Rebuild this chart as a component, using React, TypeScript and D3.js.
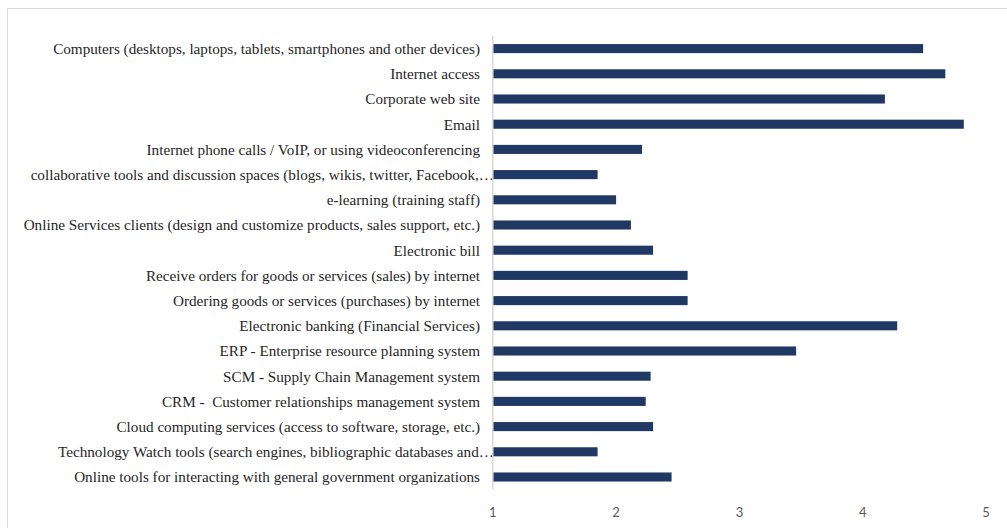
import React from "react";
import * as d3 from "d3";

const categories: string[] = [
  "Computers (desktops, laptops, tablets, smartphones and other devices)",
  "Internet access",
  "Corporate web site",
  "Email",
  "Internet phone calls / VoIP, or using videoconferencing",
  "collaborative tools and discussion spaces (blogs, wikis, twitter, Facebook,…",
  "e-learning (training staff)",
  "Online Services clients (design and customize products, sales support, etc.)",
  "Electronic bill",
  "Receive orders for goods or services (sales) by internet",
  "Ordering goods or services (purchases) by internet",
  "Electronic banking (Financial Services)",
  "ERP - Enterprise resource planning system",
  "SCM - Supply Chain Management system",
  "CRM -  Customer relationships management system",
  "Cloud computing services (access to software, storage, etc.)",
  "Technology Watch tools (search engines, bibliographic databases and…",
  "Online tools for interacting with general government organizations",
];

const values: number[] = [
  4.49, 4.67, 4.18, 4.82, 2.21, 1.85, 2.0, 2.12, 2.3, 2.58, 2.58, 4.28, 3.46,
  2.28, 2.24, 2.3, 1.85, 2.45,
];

const tickValues: number[] = [1, 2, 3, 4, 5];

const W = 1007;
const H = 528;

export default function App() {
  const x = d3.scaleLinear().domain([1, 5]).range([492.8, 986]);
  const y = d3
    .scaleBand<string>()
    .domain(categories)
    .range([36, 489.6])
    .paddingInner(0.64)
    .paddingOuter(0.32);

  return (
    <svg
      width={W}
      height={H}
      style={{ position: "absolute", left: 0, top: 0, background: "#fff" }}
    >
      <rect
        x={7.5}
        y={8.5}
        width={1010}
        height={540}
        fill="#fff"
        stroke="#d9d9d9"
        strokeWidth={1}
      />
      {categories.map((c, i) => {
        const truncated = c.endsWith("…");
        return (
          <text
            key={"l" + i}
            x={truncated ? 494 : 480}
            y={(y(c) as number) + y.bandwidth() / 2}
            dy="0.35em"
            textAnchor="end"
            style={{
              fontFamily: "'Times New Roman', 'Liberation Serif', serif",
              whiteSpace: "pre",
            }}
            fontSize={15.2}
            fill="#262626"
          >
            {c}
          </text>
        );
      })}
      {categories.map((c, i) => (
        <rect
          key={"b" + i}
          x={x(1)}
          y={y(c) as number}
          width={x(values[i]) - x(1)}
          height={y.bandwidth()}
          fill="#203864"
        />
      ))}
      <line
        x1={x(1)}
        x2={x(1)}
        y1={36}
        y2={489.6}
        stroke="#d9d9d9"
        strokeWidth={1.5}
      />
      {tickValues.map((t) => (
        <text
          key={"t" + t}
          x={x(t)}
          y={517}
          textAnchor="middle"
          style={{ fontFamily: "Lato, 'Open Sans', sans-serif" }}
          fontSize={13}
          fill="#595959"
        >
          {t}
        </text>
      ))}
    </svg>
  );
}
